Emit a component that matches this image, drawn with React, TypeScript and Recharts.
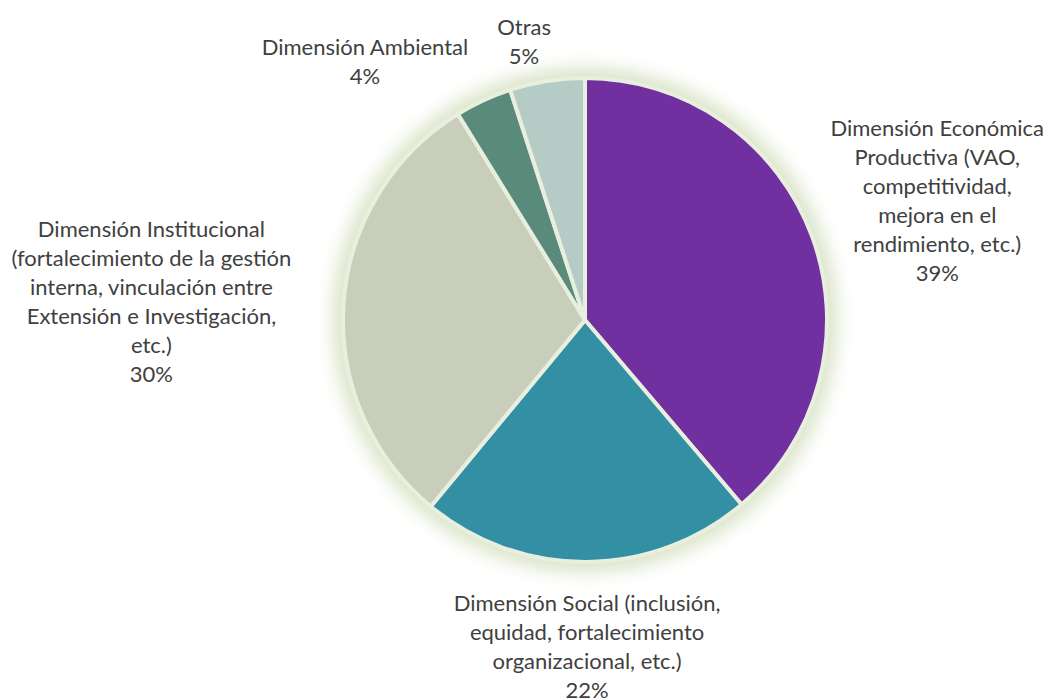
import React from 'react';
import { PieChart, Pie, Cell } from 'recharts';

const CATEGORIES = [
  'Dimensión Económica\nProductiva (VAO,\ncompetitividad,\nmejora en el\nrendimiento, etc.)',
  'Dimensión Social (inclusión,\nequidad, fortalecimiento\norganizacional, etc.)',
  'Dimensión Institucional\n(fortalecimiento de la gestión\ninterna, vinculación entre\nExtensión e Investigación,\netc.)',
  'Dimensión Ambiental',
  'Otras',
];
const VALUES = [38.8, 22.2, 30.2, 3.8, 5.0];
const COLORS = ['#7030A0', '#338FA3', '#C9CEBB', '#5A8A7A', '#B5CCC6'];

// label placement relative to the slice middle: radial distance and angle shift (deg, clockwise)
const LABEL_RADIUS = [372, 326, 434, 340, 286];
const LABEL_SHIFT = [1.4, 0, -1.4, -15.5, -3.3];

const DATA = CATEGORIES.map((name, i) => ({ name, value: VALUES[i] }));
const TOTAL = VALUES.reduce((a, b) => a + b, 0);

const RAD = Math.PI / 180;
const LINE_H = 29;

const renderLabel = (props: any) => {
  const { cx, cy, midAngle, index } = props;
  // recharts angle: counter-clockwise from 3 o'clock
  const ang = midAngle - LABEL_SHIFT[index];
  const r = LABEL_RADIUS[index];
  const x = cx + r * Math.cos(-ang * RAD);
  const y = cy + r * Math.sin(-ang * RAD);
  const lines = [...CATEGORIES[index].split('\n'), `${Math.round((VALUES[index] / TOTAL) * 100)}%`];
  const n = lines.length;
  return (
    <text
      key={`lbl-${index}`}
      x={x}
      y={y}
      textAnchor="middle"
      fill="#404040"
      fontSize={22}
      fontFamily="Lato, 'Open Sans', sans-serif"
    >
      {lines.map((l, i) => (
        <tspan key={i} x={x} y={y + (i - (n - 1) / 2) * LINE_H} dominantBaseline="central">
          {l}
        </tspan>
      ))}
    </text>
  );
};

const App: React.FC = () => {
  return (
    <div style={{ width: 1045, height: 698, background: '#fff', overflow: 'hidden' }}>
      <style>{`body{margin:0;overflow:hidden}`}</style>
      <PieChart width={1045} height={698} margin={{ top: 0, right: 0, bottom: 0, left: 0 }}>
        <defs>
          <filter id="glow" x="-20%" y="-20%" width="140%" height="140%">
            <feGaussianBlur stdDeviation="9" />
          </filter>
        </defs>
        <Pie
          data={[{ value: 1 }]}
          dataKey="value"
          cx={585}
          cy={320}
          outerRadius={252}
          fill="#D9E3C6"
          stroke="none"
          filter="url(#glow)"
          isAnimationActive={false}
        />
        <Pie
          data={DATA}
          dataKey="value"
          cx={585}
          cy={320}
          outerRadius={242}
          startAngle={90}
          endAngle={-270}
          stroke="#E9EFDF"
          strokeWidth={4}
          label={renderLabel}
          labelLine={false}
          isAnimationActive={false}
        >
          {DATA.map((d, i) => (
            <Cell key={d.name} fill={COLORS[i]} />
          ))}
        </Pie>
      </PieChart>
    </div>
  );
};

export default App;
